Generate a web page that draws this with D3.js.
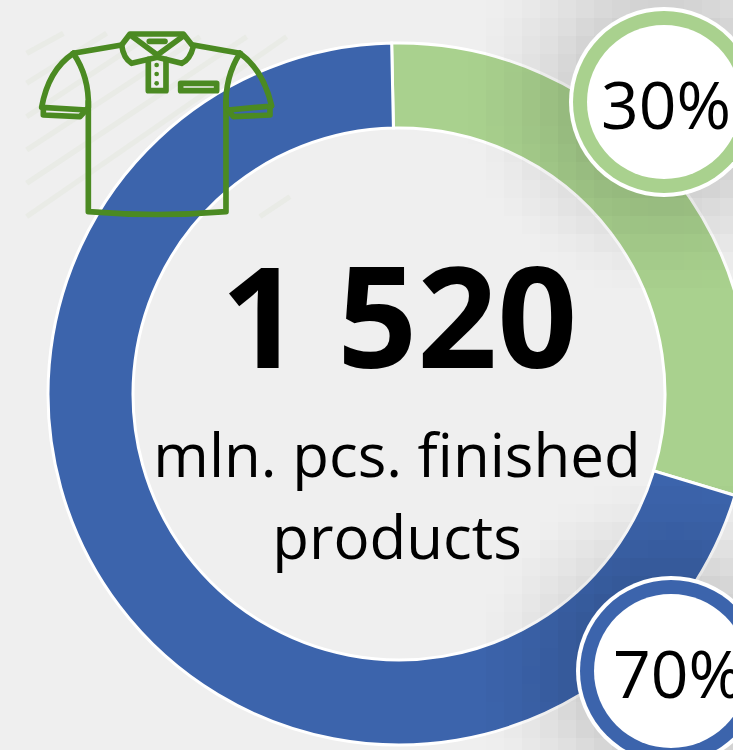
<!DOCTYPE html>
<html>
<head>
<meta charset="utf-8">
<script src="https://cdn.jsdelivr.net/npm/d3@7"></script>
<style>
  html, body { margin: 0; padding: 0; background: #efefef; overflow: hidden; }
  svg { display: block; }
  text { font-family: "Open Sans", sans-serif; fill: #000; }
</style>
</head>
<body>
<script>
const shares = [30, 70]
const shareLabels = ["30%", "70%"]
const shareColors = ["#a9d18e", "#3c64ac"]
const total = "1 520"
const caption = ["mln. pcs. finished", "products"]

const width = 733
const height = 750
const cx = 399
const cy = 394

const svg = d3.select("body").append("svg")
    .attr("width", width)
    .attr("height", height)

// faint hatching behind the shirt
const hatch = [[20, 100, 130, 40], [20, 190, 260, 40], [20, 290, 400, 40], [20, 390, 540, 50],
    [20, 490, 680, 50], [20, 590, 800, 50], [720, 590, 810, 530]]
svg.append("g")
    .attr("transform", "translate(20,20) scale(0.3333)")
    .selectAll("line")
    .data(hatch).enter()
    .append("line")
        .attr("x1", d => d[0]).attr("y1", d => d[1])
        .attr("x2", d => d[2]).attr("y2", d => d[3])
        .attr("stroke", "#e9ebe6")
        .attr("stroke-width", 16)

// donut
const pie = d3.pie().sort(null)
    .startAngle(-1.2 * Math.PI / 180)
    .endAngle((360 - 1.2) * Math.PI / 180)
const arc = d3.arc().innerRadius(266).outerRadius(351)
svg.append("g")
    .attr("transform", `translate(${cx},${cy})`)
    .selectAll("path")
    .data(pie(shares)).enter()
    .append("path")
        .attr("d", arc)
        .attr("fill", (d, i) => shareColors[i])
        .attr("stroke", "#fff")
        .attr("stroke-width", 3)

// blocky soft shadow round the two bubbles
const bubbles = [{x: 664, y: 102, dx: 2}, {x: 671, y: 671, dx: 7}]
const cell = 18
const shadow = svg.append("g").attr("shape-rendering", "crispEdges")
for (let x = 0; x < width; x += cell) {
    for (let y = 0; y < height; y += cell) {
        let a = 0
        bubbles.forEach(b => {
            let dist = Math.hypot(x + cell / 2 - b.x, y + cell / 2 - b.y)
            if (dist < 200) a = Math.max(a, 0.3 * Math.pow(1 - dist / 200, 1.5))
        })
        if (a > 0) {
            shadow.append("rect")
                .attr("x", x).attr("y", y)
                .attr("width", cell).attr("height", cell)
                .attr("fill", "#000")
                .attr("opacity", a)
        }
    }
}

// bubbles
const bubble = svg.selectAll(".bubble")
    .data(bubbles).enter()
    .append("g")
        .attr("class", "bubble")
        .attr("transform", d => `translate(${d.x},${d.y})`)
bubble.append("circle").attr("r", 95).attr("fill", "#fff")
bubble.append("circle").attr("r", 91).attr("fill", (d, i) => shareColors[i])
bubble.append("circle").attr("r", 77).attr("fill", "#fff")
bubble.append("text")
    .attr("x", d => d.dx)
    .attr("y", 27)
    .attr("text-anchor", "middle")
    .attr("font-size", 66)
    .text((d, i) => shareLabels[i])

// centre text
svg.append("text")
    .attr("x", 399)
    .attr("y", 368)
    .attr("text-anchor", "middle")
    .attr("font-size", 140)
    .attr("font-weight", 700)
    .text(total)
svg.selectAll(".caption")
    .data(caption).enter()
    .append("text")
        .attr("class", "caption")
        .attr("x", 397)
        .attr("y", (d, i) => 477 + i * 82)
        .attr("text-anchor", "middle")
        .attr("font-size", 60)
        .text(d => d)

// shirt icon, traced in zoomed units
const shirt = svg.append("g")
    .attr("transform", "translate(20,20) scale(0.3333)")
    .attr("fill", "none")
    .attr("stroke", "#4b8a22")
    .attr("stroke-width", 17)
    .attr("stroke-linejoin", "round")
    .attr("stroke-linecap", "round")
const shirtPaths = [
    "M205,245 L205,575 Q410,592 618,575 L618,245",
    "M160,100 Q208,170 205,262",
    "M660,100 Q615,170 618,262",
    "M160,100 Q85,150 65,262 L200,270",
    "M70,265 L70,285 L180,290 L200,268",
    "M660,100 Q730,150 755,258 L625,270",
    "M750,262 L750,285 L640,290 L625,270",
    "M160,100 L305,75",
    "M660,100 L520,75",
    "M330,42 L490,42 L520,80 Q510,120 485,130 L412,112 L335,130 Q310,115 305,75 Z",
    "M335,48 L412,105 L490,48",
    "M388,64 L435,64",
    "M385,118 L385,212 L438,212 L438,118",
    "M482,190 L590,190 L590,212 L482,212 Z"
]
shirt.selectAll("path")
    .data(shirtPaths).enter()
    .append("path")
        .attr("d", d => d)
shirt.selectAll("circle")
    .data([135, 162, 190]).enter()
    .append("circle")
        .attr("cx", 410)
        .attr("cy", d => d)
        .attr("r", 7)
        .attr("fill", "#4b8a22")
        .attr("stroke", "none")
</script>
</body>
</html>
